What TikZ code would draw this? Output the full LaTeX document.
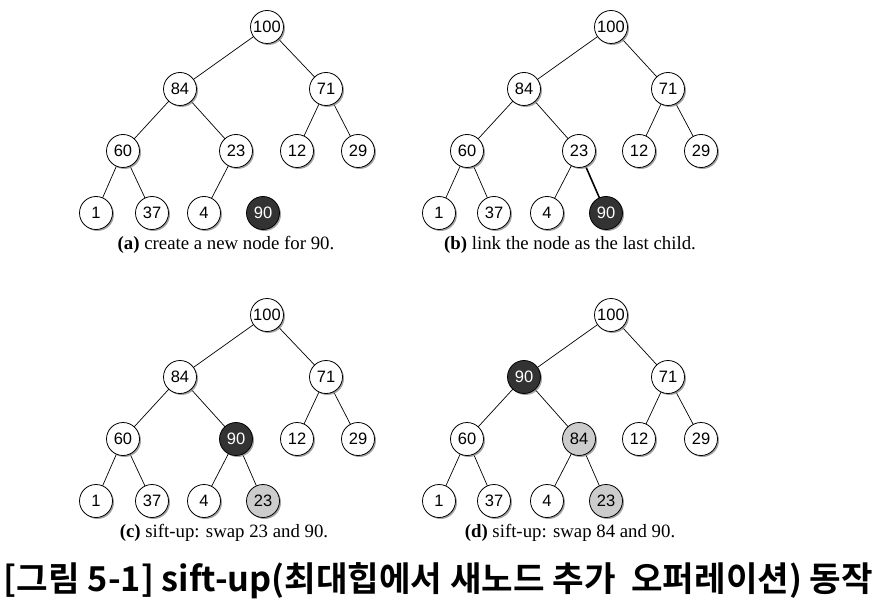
\documentclass[tikz,border=0pt]{standalone}
\usepackage{fontspec}
\setmainfont{Liberation Serif}
\newfontfamily\nodefont{Liberation Sans}
\newfontfamily\krfont{Noto Sans CJK KR}[BoldFont={* Bold}]
\usetikzlibrary{shadows,backgrounds}
\tikzset{
  hn/.style={circle, draw=black, line width=0.8pt, fill=white, minimum size=33pt, inner sep=0pt,
    font=\nodefont\fontsize{16.5}{18}\selectfont,
    drop shadow={shadow xshift=1.5pt, shadow yshift=-1.5pt, fill=black!45, opacity=0.8}},
  dk/.style={hn, fill=black!80, text=white},
  gy/.style={hn, fill=black!20},
  ed/.style={draw=black, line width=0.7pt},
  bed/.style={draw=black, line width=1.6pt},
  captxt/.style={font=\fontsize{18.8}{20}\selectfont, anchor=center},
}
\begin{document}
\begin{tikzpicture}[x=1pt,y=-1pt]
\useasboundingbox (0,0) rectangle (877,612);
% ---------- panel (a)
\node[hn] (a1) at (267,27) {100};
\node[hn] (a2) at (180,89) {84};
\node[hn] (a3) at (326,89) {71};
\node[hn] (a4) at (123,151) {60};
\node[hn] (a5) at (236,151) {23};
\node[hn] (a6) at (297,151) {12};
\node[hn] (a7) at (358,151) {29};
\node[hn] (a8) at (96,213) {1};
\node[hn] (a9) at (152,213) {37};
\node[hn] (a10) at (204,213) {4};
\node[dk] (a11) at (263,213) {90};
\node[captxt] (ca) at (226,245) {\textbf{(a)} create a new node for 90.};
% ---------- panel (b)
\node[hn] (b1) at (611,27) {100};
\node[hn] (b2) at (524,89) {84};
\node[hn] (b3) at (668,89) {71};
\node[hn] (b4) at (467,151) {60};
\node[hn] (b5) at (579,151) {23};
\node[hn] (b6) at (639,151) {12};
\node[hn] (b7) at (701,151) {29};
\node[hn] (b8) at (439,213) {1};
\node[hn] (b9) at (494,213) {37};
\node[hn] (b10) at (547,213) {4};
\node[dk] (b11) at (606,213) {90};
\node[captxt] (cb) at (570,245) {\textbf{(b)} link the node as the last child.};
% ---------- panel (c)
\node[hn] (c1) at (267,315) {100};
\node[hn] (c2) at (180,377) {84};
\node[hn] (c3) at (326,377) {71};
\node[hn] (c4) at (123,439) {60};
\node[dk] (c5) at (236,439) {90};
\node[hn] (c6) at (297,439) {12};
\node[hn] (c7) at (358,439) {29};
\node[hn] (c8) at (96,501) {1};
\node[hn] (c9) at (152,501) {37};
\node[hn] (c10) at (204,501) {4};
\node[gy] (c11) at (263,501) {23};
\node[captxt] (cc) at (224,533) {\textbf{(c)} sift-up: swap 23 and 90.};
% ---------- panel (d)
\node[hn] (d1) at (611,315) {100};
\node[dk] (d2) at (524,377) {90};
\node[hn] (d3) at (668,377) {71};
\node[hn] (d4) at (467,439) {60};
\node[gy] (d5) at (579,439) {84};
\node[hn] (d6) at (639,439) {12};
\node[hn] (d7) at (701,439) {29};
\node[hn] (d8) at (439,501) {1};
\node[hn] (d9) at (494,501) {37};
\node[hn] (d10) at (547,501) {4};
\node[gy] (d11) at (606,501) {23};
\node[captxt] (cd) at (570,533) {\textbf{(d)} sift-up: swap 84 and 90.};
% ---------- edges (behind nodes)
\begin{scope}[on background layer]
\foreach \p in {a,b,c,d}{
  \draw[ed] (\p1.center) -- (\p2.center) (\p1.center) -- (\p3.center)
    (\p2.center) -- (\p4.center) (\p2.center) -- (\p5.center)
    (\p3.center) -- (\p6.center) (\p3.center) -- (\p7.center)
    (\p4.center) -- (\p8.center) (\p4.center) -- (\p9.center)
    (\p5.center) -- (\p10.center);
}
\draw[bed] (b5.center) -- (b11.center);
\draw[ed] (c5.center) -- (c11.center) (d5.center) -- (d11.center);
\end{scope}
% ---------- title
\node[font=\krfont\bfseries\fontsize{34.3}{38}\selectfont, anchor=center] (title) at (438.5,581)
  {[그림 5-1] sift-up(최대힙에서 새노드 추가~ 오퍼레이션) 동작};
\end{tikzpicture}
\end{document}
